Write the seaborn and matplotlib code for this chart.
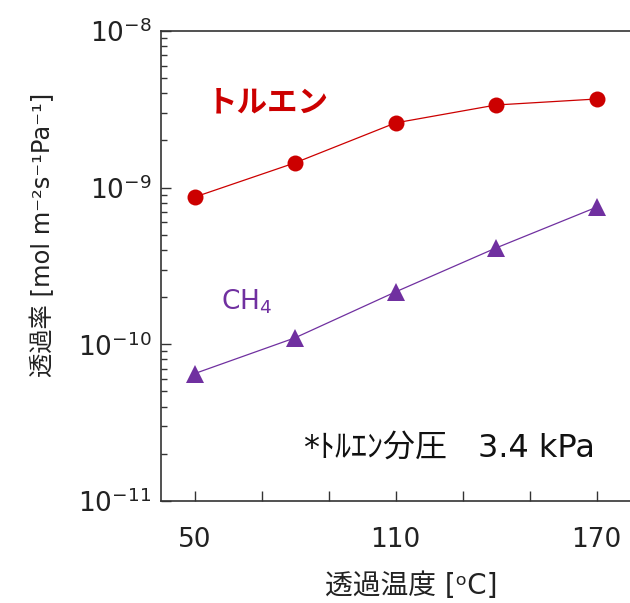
import numpy as np
import pandas as pd
import matplotlib
matplotlib.use("Agg")
import matplotlib.pyplot as plt
import matplotlib.ticker as mticker
import seaborn as sns

# データ
temperatures = [50, 80, 110, 140, 170]
toluene_perm = [8.7e-10, 1.44e-9, 2.59e-9, 3.37e-9, 3.68e-9]
ch4_perm = [6.5e-11, 1.10e-10, 2.16e-10, 4.12e-10, 7.5e-10]

x_ticks = [50, 70, 90, 110, 130, 150, 170]
x_tick_labels = ["50", "", "", "110", "", "", "170"]
y_ticks = [1e-11, 1e-10, 1e-9, 1e-8]
y_tick_labels = ["10$^{-11}$", "10$^{-10}$", "10$^{-9}$", "10$^{-8}$"]

RED = "#CC0000"
PURPLE = "#7030A0"

sns.set_style("ticks")
plt.rcParams["font.family"] = ["DejaVu Sans", "Noto Sans CJK JP"]
plt.rcParams["mathtext.fontset"] = "dejavusans"
plt.rcParams["axes.unicode_minus"] = False

df = pd.DataFrame({
    "temp": temperatures * 2,
    "perm": toluene_perm + ch4_perm,
    "gas": ["toluene"] * 5 + ["CH4"] * 5,
})

fig = plt.figure(figsize=(6.30, 6.03), dpi=100)
ax = fig.add_axes([0.2556, 0.1692, 0.7444, 0.7794])

sns.lineplot(data=df[df["gas"] == "toluene"], x="temp", y="perm", ax=ax,
             color=RED, marker="o", markersize=11.5, markeredgewidth=0,
             linewidth=0.9)
sns.lineplot(data=df[df["gas"] == "CH4"], x="temp", y="perm", ax=ax,
             color=PURPLE, marker="^", markersize=12.5, markeredgewidth=0,
             linewidth=0.9)

ax.set_yscale("log")
ax.set_xlim(40, 180)
ax.set_ylim(1e-11, 1e-8)

ax.set_xticks(x_ticks)
ax.set_xticklabels(x_tick_labels)
ax.set_yticks(y_ticks)
ax.set_yticklabels(y_tick_labels)
ax.yaxis.set_minor_locator(mticker.LogLocator(base=10, subs=np.arange(2, 10)))
ax.yaxis.set_minor_formatter(mticker.NullFormatter())

ax.tick_params(axis="both", which="major", direction="in", length=7,
               width=1, labelsize=19, colors="#333333", labelcolor="#222222")
ax.tick_params(axis="x", pad=19)
ax.tick_params(axis="y", which="minor", direction="in", length=4, width=1,
               colors="#333333")
ax.tick_params(axis="y", pad=7)

for side in ["left", "bottom", "top"]:
    ax.spines[side].set_color("#333333")
    ax.spines[side].set_linewidth(1.2)
ax.spines["right"].set_visible(False)

ax.set_xlabel("透過温度 [ᵒC]", fontsize=20, color="#222222")
ax.xaxis.set_label_coords(0.533, -0.152)
ax.set_ylabel("透過率 [mol m⁻²s⁻¹Pa⁻¹]", fontsize=17.5, color="#222222")
ax.yaxis.set_label_coords(-0.226, 0.566)

ax.text(71.9, 3.47e-9, "トルエン", color=RED, fontsize=22, fontweight="bold",
        ha="center", va="center")
ax.text(57.9, 1.68e-10, "CH$_4$", color=PURPLE, fontsize=19,
        ha="left", va="baseline")
ax.text(82.4, 1.91e-11, "*ﾄﾙｴﾝ分圧", color="#111111", fontsize=23,
        ha="left", va="baseline")
ax.text(134.6, 1.91e-11, "3.4 kPa", color="#111111", fontsize=23,
        ha="left", va="baseline")

if ax.get_legend() is not None:
    ax.get_legend().remove()

plt.savefig("out.png", dpi=100)
